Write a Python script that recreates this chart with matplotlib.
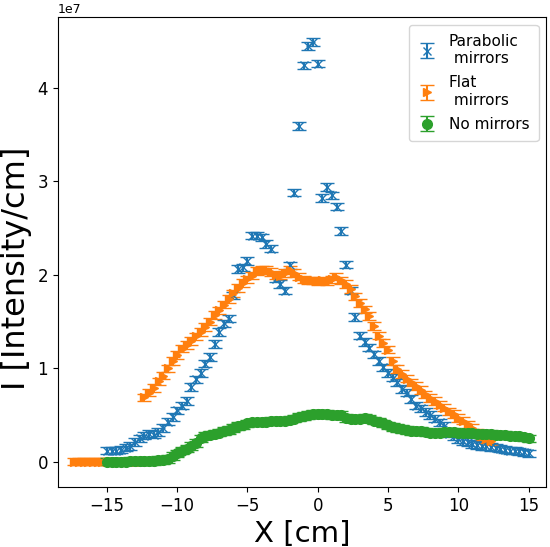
import numpy as np
import matplotlib
matplotlib.use("Agg")
import matplotlib.pyplot as plt

# intensity profiles, values in units of 1e7
x_par = np.linspace(-15, 15, 91)
y_par = [0.12, 0.12, 0.12, 0.13, 0.15, 0.17, 0.21, 0.25, 0.28, 0.30,
         0.29, 0.32, 0.36, 0.43, 0.48, 0.55, 0.60, 0.65, 0.80, 0.88,
         0.95, 1.05, 1.12, 1.26, 1.39, 1.48, 1.53, 1.78, 2.06, 2.08,
         2.15, 2.42, 2.42, 2.40, 2.33, 2.28, 1.96, 1.90, 1.83, 2.10,
         2.88, 3.59, 4.24, 4.45, 4.49, 4.26, 2.82, 2.94, 2.85, 2.73,
         2.47, 2.11, 1.83, 1.55, 1.35, 1.28, 1.22, 1.15, 1.08, 1.01,
         0.95, 0.90, 0.85, 0.78, 0.74, 0.67, 0.60, 0.57, 0.53, 0.50,
         0.46, 0.42, 0.38, 0.30, 0.27, 0.24, 0.22, 0.21, 0.19, 0.18,
         0.17, 0.17, 0.16, 0.15, 0.14, 0.13, 0.12, 0.12, 0.11, 0.10,
         0.09]

x_flat = np.linspace(-17.33, 12.33, 90)
y_flat = [0, 0, 0, 0, 0, 0, 0, 0, 0, 0, 0, 0, 0, 0, 0,
          0.69, 0.74, 0.79, 0.86, 0.92, 1.00, 1.08, 1.14, 1.21, 1.25,
          1.29, 1.34, 1.39, 1.44, 1.50, 1.57, 1.62, 1.68, 1.74, 1.80,
          1.86, 1.91, 1.95, 1.99, 2.04, 2.05, 2.05, 2.03, 2.00, 1.99,
          2.02, 2.05, 2.02, 1.98, 1.95, 1.94, 1.94, 1.93, 1.94, 1.93,
          1.95, 1.98, 1.94, 1.90, 1.85, 1.77, 1.70, 1.63, 1.56, 1.45,
          1.35, 1.27, 1.20, 1.08, 0.99, 0.94, 0.89, 0.85, 0.81, 0.77,
          0.72, 0.68, 0.65, 0.61, 0.58, 0.54, 0.51, 0.47, 0.44, 0.40,
          0.36, 0.31, 0.27, 0.24, 0.22]

x_none = np.linspace(-15, 15, 91)
y_none = [0.00, 0.00, 0.00, 0.00, 0.00, 0.01, 0.01, 0.01, 0.01, 0.01,
          0.01, 0.02, 0.02, 0.03, 0.06, 0.09, 0.12, 0.14, 0.17, 0.20,
          0.25, 0.28, 0.29, 0.30, 0.31, 0.33, 0.34, 0.36, 0.38, 0.39,
          0.41, 0.42, 0.42, 0.43, 0.43, 0.44, 0.44, 0.44, 0.44, 0.45,
          0.46, 0.48, 0.49, 0.50, 0.51, 0.51, 0.51, 0.51, 0.50, 0.50,
          0.50, 0.47, 0.46, 0.46, 0.46, 0.47, 0.46, 0.44, 0.43, 0.41,
          0.39, 0.37, 0.36, 0.35, 0.34, 0.33, 0.33, 0.33, 0.32, 0.31,
          0.31, 0.31, 0.32, 0.32, 0.32, 0.31, 0.31, 0.31, 0.31, 0.30,
          0.30, 0.30, 0.30, 0.29, 0.29, 0.29, 0.28, 0.28, 0.27, 0.26,
          0.25]

err = 0.04  # same error on every point

scale = 1e7
fig = plt.figure(figsize=(5.5, 5.47), dpi=100)
ax = fig.add_subplot(111)
fig.subplots_adjust(left=0.105, right=0.993, bottom=0.11, top=0.969)

ax.errorbar(x_par, np.array(y_par) * scale, yerr=err * scale, fmt='x',
            capsize=5, markersize=6, label='Parabolic\n mirrors')
ax.errorbar(x_flat, np.array(y_flat) * scale, yerr=err * scale, fmt='>',
            capsize=5, markersize=6, label='Flat\n mirrors')
ax.errorbar(x_none, np.array(y_none) * scale, yerr=err * scale, fmt='o',
            capsize=5, markersize=7, label='No mirrors')

ax.set_xlim(-18.5, 16.25)
ax.set_xlabel('X [cm]', fontsize=21)
ax.set_ylabel('I [Intensity/cm]', fontsize=23)
ax.yaxis.set_label_coords(-0.053, 0.465)
ax.tick_params(labelsize=12)
ax.yaxis.get_offset_text().set_fontsize(9)
ax.legend(loc='upper right', fontsize=11, labelspacing=0.6, borderpad=0.6,
          handlelength=1.2)

fig.savefig('out.png', dpi=100)
